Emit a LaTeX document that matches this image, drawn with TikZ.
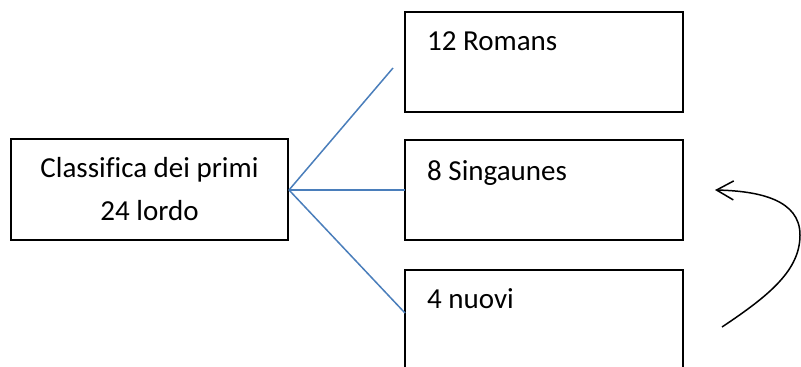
\documentclass[tikz,border=0pt]{standalone}
\usepackage{fontspec}
\setmainfont[Ligatures=NoCommon]{Carlito}
\usetikzlibrary{arrows.meta}
\definecolor{wordblue}{RGB}{74,126,187}
\tikzset{
  box/.style={draw=black, line width=2pt, fill=none},
  lbl/.style={inner sep=0pt, anchor=base, font=\fontsize{29}{43}\selectfont},
  lbll/.style={lbl, anchor=base west},
  conn/.style={draw=wordblue, line width=1.5pt},
  loop/.style={draw=black, line width=1.5pt, -{Straight Barb[length=17pt,width=19pt]}}
}
\begin{document}
\begin{tikzpicture}[x=1pt,y=-1pt]
\clip (0,0) rectangle (801,367);
\path[use as bounding box] (0,0) rectangle (801,367);
% boxes
\draw[box] (11,139) rectangle (288,240);
\coordinate (L) at (289,190);
\draw[box] (405,12) rectangle (683,112);
\draw[box] (405,140) rectangle (683,240);
\draw[box] (405,270) rectangle (683,390);
\coordinate (B2w) at (405,190);
\coordinate (B3w) at (405,313);
\coordinate (F1) at (393,68);
% texts
\node[lbl] (t1) at (149.5,177) {Classifica dei primi};
\node[lbl] (t2) at (149.5,220) {24 lordo};
\node[lbll] (r1) at (427,50) {12 Romans};
\node[lbll] (r2) at (427,180) {8 Singaunes};
\node[lbll] (r3) at (427,308) {4 nuovi};
% connectors
\draw[conn] (L) -- (F1);
\draw[conn] (L) -- (B2w);
\draw[conn] (L) -- (B3w);
% curved arrow
\coordinate (As) at (722,327);
\coordinate (Am) at (800,235);
\coordinate (Ae) at (715,190);
\draw[loop] (As) .. controls (770,295) and (800,270) .. (Am) .. controls (800,200) and (760,191) .. (Ae);
\end{tikzpicture}
\end{document}
